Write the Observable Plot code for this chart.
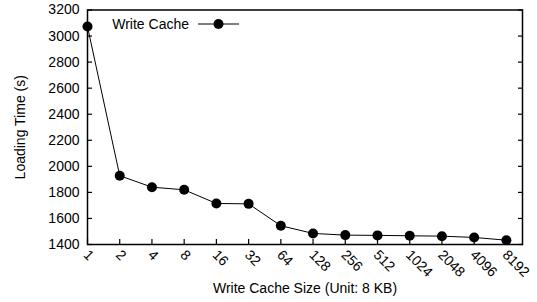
<!DOCTYPE html>
<html>
<head>
<meta charset="utf-8">
<script src="https://cdn.jsdelivr.net/npm/d3@7"></script>
<script src="https://cdn.jsdelivr.net/npm/@observablehq/plot@0.6"></script>
<style>
  html, body { margin: 0; padding: 0; background: #fff; }
</style>
</head>
<body>
<div id="chart"></div>
<script>
const cacheSizes = ["1","2","4","8","16","32","64","128","256","512","1024","2048","4096","8192"];
const loadingTimes = [3073, 1928, 1840, 1820, 1715, 1712, 1544, 1485, 1472, 1470, 1467, 1464, 1454, 1433];
const yTicks = [1400, 1600, 1800, 2000, 2200, 2400, 2600, 2800, 3000, 3200];
const seriesName = "Write Cache";

const idx = d3.range(cacheSizes.length);

// legend drawn inside the frame (line sample with marker)
function legendMark(index, scales, values, dims) {
  const g = d3.create("svg:g");
  const x0 = dims.marginLeft, y0 = dims.marginTop;
  const cy = y0 + 14.5;
  g.append("text")
    .attr("x", x0 + 102).attr("y", cy).attr("dy", "0.35em")
    .attr("text-anchor", "end").attr("fill", "#000")
    .text(seriesName);
  g.append("line")
    .attr("x1", x0 + 111).attr("x2", x0 + 152)
    .attr("y1", cy).attr("y2", cy)
    .attr("stroke", "#000").attr("stroke-width", 1);
  g.append("circle")
    .attr("cx", x0 + 131.5).attr("cy", cy).attr("r", 5).attr("fill", "#000");
  return g.node();
}

const chart = Plot.plot({
  width: 537,
  height: 302,
  marginLeft: 87,
  marginRight: 15,
  marginTop: 9.5,
  marginBottom: 58,
  style: {fontFamily: "'Liberation Sans', Arial, sans-serif", fontSize: "14px", color: "#000", background: "#fff"},
  x: {type: "linear", domain: [0, cacheSizes.length - 0.5]},
  y: {domain: [1400, 3200]},
  marks: [
    Plot.axisY(yTicks, {tickSize: 0, tickPadding: 8, tickFormat: d => String(d), label: "Loading Time (s)", labelAnchor: "center", labelArrow: "none", labelOffset: 72}),
    Plot.axisY(yTicks, {tickSize: -5, tickFormat: () => "", label: null, strokeWidth: 1.2}),
    Plot.axisY(yTicks, {anchor: "right", tickSize: -5, tickFormat: () => "", label: null, strokeWidth: 1.2}),
    Plot.axisX(idx, {tickSize: -5, tickFormat: () => "", label: null, strokeWidth: 1.2}),
    Plot.axisX(idx, {tickSize: 0, tickPadding: 8, dx: -1.5, tickFormat: i => cacheSizes[i], tickRotate: 45, label: "Write Cache Size (Unit: 8 KB)", labelAnchor: "center", labelArrow: "none", labelOffset: 48}),
    Plot.frame({stroke: "#000", strokeWidth: 1.5}),
    Plot.line(idx, {x: i => i, y: i => loadingTimes[i], stroke: "#000", strokeWidth: 1}),
    Plot.dot(idx, {x: i => i, y: i => loadingTimes[i], r: 5, fill: "#000", stroke: "none"}),
    legendMark
  ]
});
document.getElementById("chart").append(chart);
</script>
</body>
</html>
